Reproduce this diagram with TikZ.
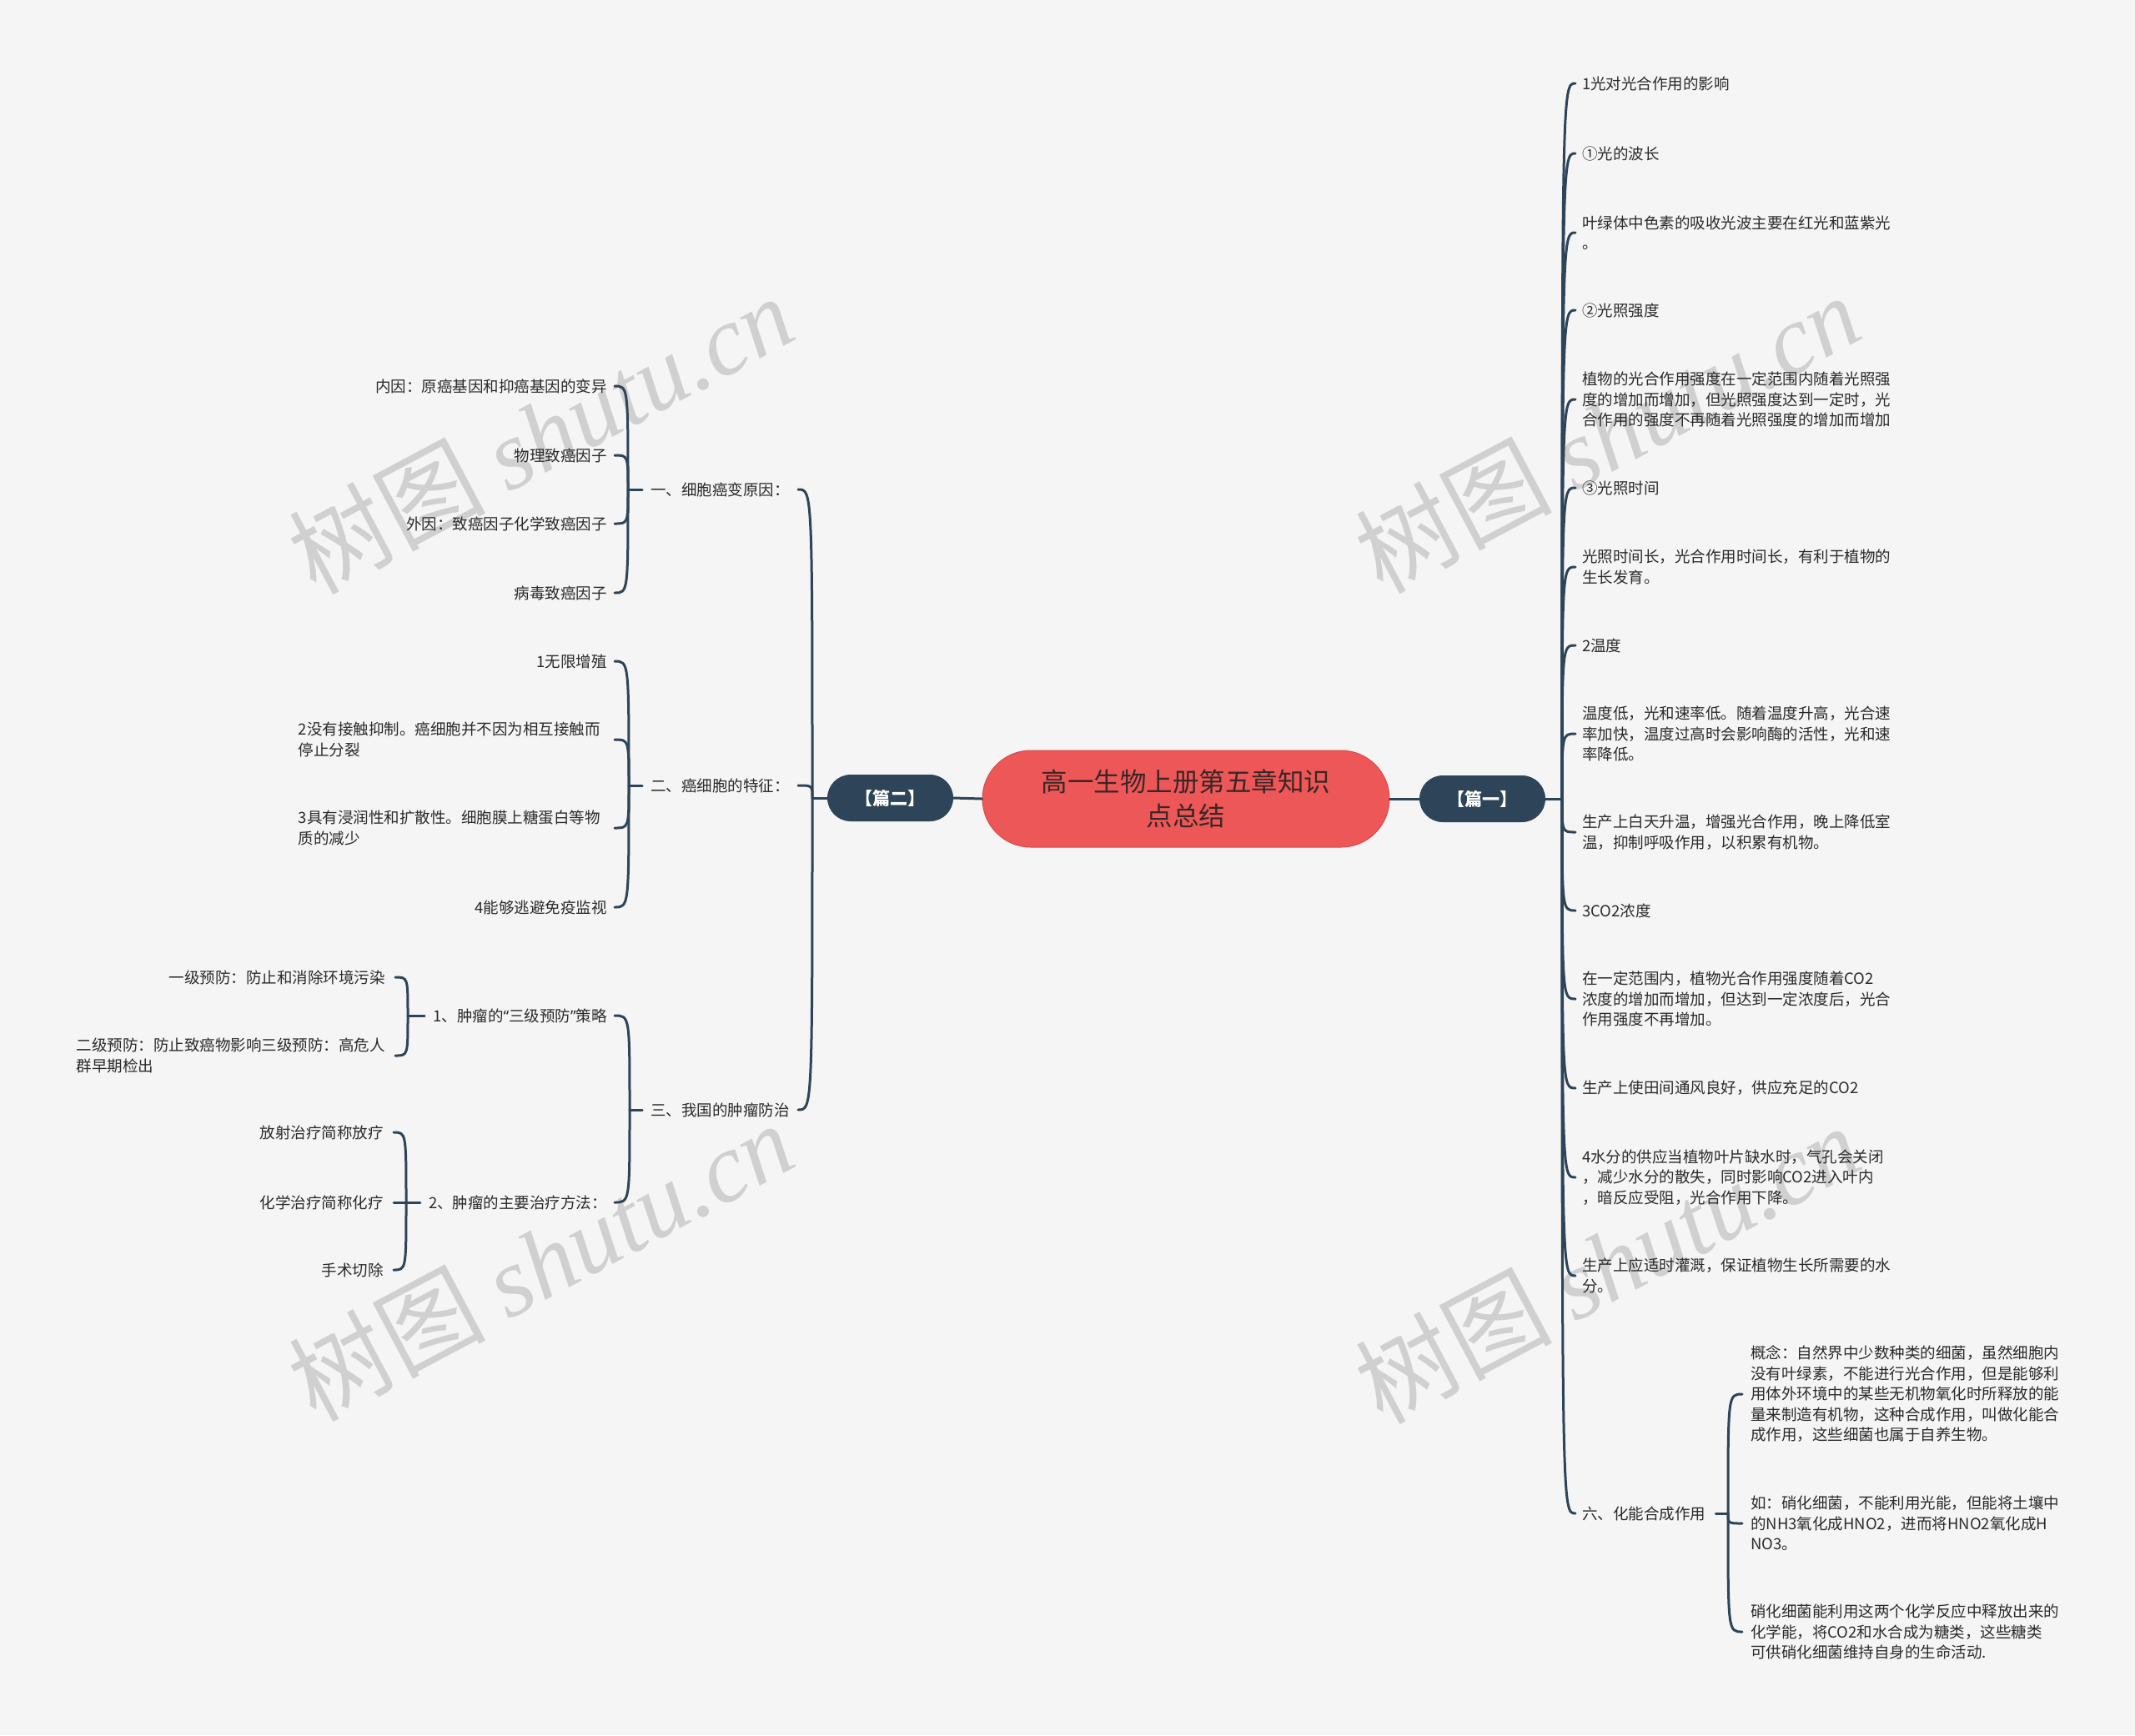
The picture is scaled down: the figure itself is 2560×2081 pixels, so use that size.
\documentclass[tikz,border=0pt]{standalone}
\usepackage{fontspec}
\setmainfont{Noto Sans CJK SC}
\newfontfamily\wmfont{Liberation Serif}
\newfontfamily\latq{Noto Sans}
\usetikzlibrary{calc}
\definecolor{bg}{HTML}{F5F5F5}
\definecolor{navy}{HTML}{2D4459}
\definecolor{redf}{HTML}{EE5757}
\definecolor{redd}{HTML}{D84B4B}
\definecolor{titletxt}{HTML}{3A2626}
\definecolor{bodytxt}{HTML}{2A2A2A}
\definecolor{wm}{HTML}{D0D0D0}
\begin{document}
\begin{tikzpicture}[x=1pt,y=-1pt,
  conn/.style={draw=navy, line width=3pt, line cap=round},
  leaf/.style={inner sep=0pt, text=bodytxt, font=\fontsize{18.5pt}{24.5pt}\selectfont, align=left},
  rleaf/.style={leaf, anchor=west},
  lleaf/.style={leaf, anchor=east},
  lwide/.style={lleaf, text width=370pt},
  topic/.style={fill=navy, rounded corners=28pt, minimum width=151pt, minimum height=56pt, inner sep=0pt, text=white, font=\fontsize{21pt}{24pt}\selectfont\bfseries},
  wmark/.style={rotate=28, text=wm, inner sep=0pt, font=\fontsize{118pt}{118pt}\selectfont}]
\useasboundingbox (0,0) rectangle (2560,2081);
\fill[bg] (0,0) rectangle (2560,2081);

% watermarks
\node[wmark] (w1) at (648,520) {树图 {\wmfont\itshape shutu.cn}};
\node[wmark] (w2) at (1927,519) {树图 {\wmfont\itshape shutu.cn}};
\node[wmark] (w3) at (648,1512) {树图 {\wmfont\itshape shutu.cn}};
\node[wmark] (w4) at (1927,1515) {树图 {\wmfont\itshape shutu.cn}};

% central
\node[draw=redd, line width=1pt, fill=redf, rounded corners=58pt, minimum width=488pt, minimum height=116pt, inner sep=0pt, align=center, text=titletxt, font=\fontsize{31.5pt}{41pt}\selectfont] (c) at (1422,958) {高一生物上册第五章知识\\点总结};
\node[topic] (p1) at (1777.5,958) {【篇一】};
\node[topic] (p2) at (1067.5,957) {【篇二】};

% right side
\node[rleaf] (r1) at (1897,100) {1光对光合作用的影响};
\node[rleaf] (r2) at (1897,184) {①光的波长};
\node[rleaf] (r3) at (1897,279) {叶绿体中色素的吸收光波主要在红光和蓝紫光\\。};
\node[rleaf] (r4) at (1897,372) {②光照强度};
\node[rleaf] (r5) at (1897,479) {植物的光合作用强度在一定范围内随着光照强\\度的增加而增加，但光照强度达到一定时，光\\合作用的强度不再随着光照强度的增加而增加};
\node[rleaf] (r6) at (1897,585) {③光照时间};
\node[rleaf] (r7) at (1897,680) {光照时间长，光合作用时间长，有利于植物的\\生长发育。};
\node[rleaf] (r8) at (1897,774) {2温度};
\node[rleaf] (r9) at (1897,880) {温度低，光和速率低。随着温度升高，光合速\\率加快，温度过高时会影响酶的活性，光和速\\率降低。};
\node[rleaf] (r10) at (1897,998) {生产上白天升温，增强光合作用，晚上降低室\\温，抑制呼吸作用，以积累有机物。};
\node[rleaf] (r11) at (1897,1092) {3CO2浓度};
\node[rleaf] (r12) at (1897,1198) {在一定范围内，植物光合作用强度随着CO2\\浓度的增加而增加，但达到一定浓度后，光合\\作用强度不再增加。};
\node[rleaf] (r13) at (1897,1305) {生产上使田间通风良好，供应充足的CO2};
\node[rleaf] (r14) at (1897,1412) {4水分的供应当植物叶片缺水时，气孔会关闭\\，减少水分的散失，同时影响CO2进入叶内\\，暗反应受阻，光合作用下降。};
\node[rleaf] (r15) at (1897,1530) {生产上应适时灌溉，保证植物生长所需要的水\\分。};
\node[rleaf] (r16) at (1897,1815) {六、化能合成作用};
\node[rleaf] (a1) at (2099,1672) {概念：自然界中少数种类的细菌，虽然细胞内\\没有叶绿素，不能进行光合作用，但是能够利\\用体外环境中的某些无机物氧化时所释放的能\\量来制造有机物，这种合成作用，叫做化能合\\成作用，这些细菌也属于自养生物。};
\node[rleaf] (a2) at (2099,1827) {如：硝化细菌，不能利用光能，但能将土壤中\\的NH3氧化成HNO2，进而将HNO2氧化成H\\NO3。};
\node[rleaf] (a3) at (2099,1957) {硝化细菌能利用这两个化学反应中释放出来的\\化学能，将CO2和水合成为糖类，这些糖类\\可供硝化细菌维持自身的生命活动.};

% left side
\node[lleaf] (l1) at (947,587) {一、细胞癌变原因：};
\node[lleaf] (l2) at (947,942) {二、癌细胞的特征：};
\node[lleaf] (l3) at (947,1331) {三、我国的肿瘤防治};
\node[lleaf] (l1a) at (728,463) {内因：原癌基因和抑癌基因的变异};
\node[lleaf] (l1b) at (728,546) {物理致癌因子};
\node[lleaf] (l1c) at (728,628) {外因：致癌因子化学致癌因子};
\node[lleaf] (l1d) at (728,711) {病毒致癌因子};
\node[lleaf] (l2a) at (728,793) {1无限增殖};
\node[lwide] (l2b) at (728,887) {2没有接触抑制。癌细胞并不因为相互接触而\\停止分裂};
\node[lwide] (l2c) at (728,993) {3具有浸润性和扩散性。细胞膜上糖蛋白等物\\质的减少};
\node[lleaf] (l2d) at (728,1088) {4能够逃避免疫监视};
\node[lleaf] (l3a) at (728,1218) {1、肿瘤的{\latq “}三级预防{\latq ”}策略};
\node[lleaf] (l3b) at (728,1442) {2、肿瘤的主要治疗方法：};
\node[lleaf] (l3a1) at (462,1172) {一级预防：防止和消除环境污染};
\node[lwide] (l3a2) at (462,1266) {二级预防：防止致癌物影响三级预防：高危人\\群早期检出};
\node[lleaf] (l3b1) at (460,1358) {放射治疗简称放疗};
\node[lleaf] (l3b2) at (460,1442) {化学治疗简称化疗};
\node[lleaf] (l3b3) at (460,1523) {手术切除};

% spine points
\coordinate (R) at (1873,958);
\coordinate (s16) at (2072,1815);
\coordinate (L) at (974,957);
\coordinate (s1) at (753,587);
\coordinate (s2) at (754,942);
\coordinate (s3) at (755,1331);
\coordinate (s3a) at (489,1218);
\coordinate (s3b) at (487,1442);

% connectors
\draw[conn] (c.west) -- (p2.east);
\draw[conn] (c.east) -- (p1.west);
\draw[conn] (p1.east) -- (R);
\foreach \i in {1,...,16} {\draw[conn] (R) .. controls (R |- r\i.west) .. ([xshift=-8pt]r\i.west);}
\draw[conn] ([xshift=12pt]r16.east) -- (s16);
\foreach \i in {1,2,3} {\draw[conn] (s16) .. controls (s16 |- a\i.west) .. ([xshift=-10pt]a\i.west);}

\draw[conn] (p2.west) -- (L);
\foreach \i in {1,2,3} {\draw[conn] (L) .. controls (L |- l\i.east) .. ([xshift=10pt]l\i.east);}
\draw[conn] ([xshift=-10pt]l1.west) -- (s1);
\foreach \n in {l1a,l1b,l1c,l1d} {\draw[conn] (s1) .. controls (s1 |- \n.east) .. ([xshift=9pt]\n.east);}
\draw[conn] ([xshift=-10pt]l2.west) -- (s2);
\foreach \n in {l2a,l2b,l2c,l2d} {\draw[conn] (s2) .. controls (s2 |- \n.east) .. ([xshift=9pt]\n.east);}
\draw[conn] ([xshift=-10pt]l3.west) -- (s3);
\foreach \n in {l3a,l3b} {\draw[conn] (s3) .. controls (s3 |- \n.east) .. ([xshift=9pt]\n.east);}
\draw[conn] ([xshift=-10pt]l3a.west) -- (s3a);
\foreach \n in {l3a1,l3a2} {\draw[conn] (s3a) .. controls (s3a |- \n.east) .. ([xshift=12pt]\n.east);}
\draw[conn] ([xshift=-10pt]l3b.west) -- (s3b);
\foreach \n in {l3b1,l3b2,l3b3} {\draw[conn] (s3b) .. controls (s3b |- \n.east) .. ([xshift=12pt]\n.east);}
\end{tikzpicture}
\end{document}
